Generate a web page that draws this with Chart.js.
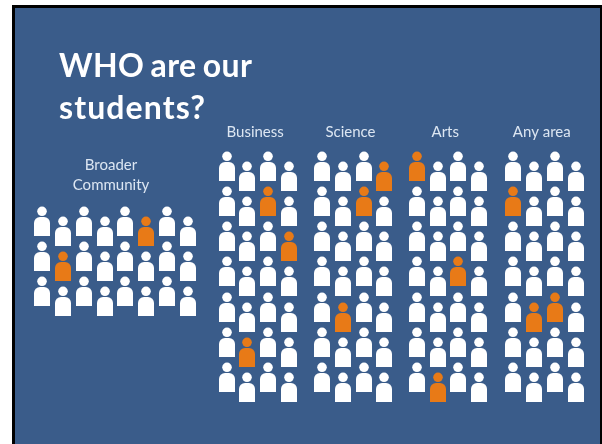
<!DOCTYPE html>
<html>
<head>
<meta charset="utf-8">
<title>WHO are our students?</title>
<script src="https://cdn.jsdelivr.net/npm/chart.js@4"></script>
<style>
    html, body { margin: 0; padding: 0; background: #ffffff; overflow: hidden; }
    #wrap {
        position: absolute; left: 12px; top: 5px; width: 585px; height: 436px;
        border-left: 3px solid #000000; border-top: 3px solid #000000; border-right: 2px solid #000000;
    }
    canvas { display: block; }
</style>
</head>
<body>
<div id="wrap"><canvas id="peopleChart" width="585" height="436"></canvas></div>
<script>
// Grupos e quantas pessoas cada um tem
const groups = ['Broader Community', 'Business', 'Science', 'Arts', 'Any area'];
const columns = [8, 4, 4, 4, 4];
const rows = [3, 7, 7, 7, 7];

// Pessoas em destaque, [coluna, linha] por grupo
const highlighted = [
    [[5, 0], [1, 1]],
    [[2, 1], [3, 2], [1, 5]],
    [[3, 0], [2, 1], [1, 4]],
    [[0, 0], [2, 3], [1, 6]],
    [[0, 1], [1, 4], [2, 4]]
];

const WHITE = '#ffffff';
const ORANGE = '#e87a17';
const BACKGROUND = '#3a5c8a';
const LABEL = '#dce6f2';

// Desenha o boneco (cabeca + corpo) usado como pointStyle
function makePerson(color) {
    const c = document.createElement('canvas');
    c.width = 16;
    c.height = 30;
    const g = c.getContext('2d');
    g.fillStyle = color;
    g.beginPath();
    g.arc(8, 5.3, 4.8, 0, Math.PI * 2);
    g.fill();
    g.beginPath();
    g.roundRect(0, 11, 16, 19, [6, 6, 0, 0]);
    g.fill();
    return c;
}
const whitePerson = makePerson(WHITE);
const orangePerson = makePerson(ORANGE);

// Onde cada grupo comeca nos eixos, em colunas e em linhas
const groupStart = [0, 8.887, 13.48, 18.05, 22.7];
const groupTop = [1.564, 0, 0, 0, 0];
const staggerRow = 0.284; // colunas pares ficam um pouco mais baixas

const datasets = groups.map((name, i) => {
    const data = [];
    const styles = [];
    for (let col = 0; col < columns[i]; col++) {
        for (let row = 0; row < rows[i]; row++) {
            data.push({ x: groupStart[i] + col, y: groupTop[i] + row + (col % 2 ? staggerRow : 0) });
            const isOn = highlighted[i].some(p => p[0] === col && p[1] === row);
            styles.push(isOn ? orangePerson : whitePerson);
        }
    }
    return { label: name, data: data, pointStyle: styles, pointRadius: 10 };
});

// Titulo e rotulos dos grupos como texto real
const textPlugin = {
    id: 'slideText',
    beforeDraw(chart) {
        const g = chart.ctx;
        g.save();
        g.fillStyle = BACKGROUND;
        g.fillRect(0, 0, chart.width, chart.height);
        g.textBaseline = 'alphabetic';
        g.textAlign = 'left';
        g.fillStyle = WHITE;
        g.font = 'bold 32px Lato, Carlito, sans-serif';
        g.letterSpacing = '0.4px';
        g.wordSpacing = '-2px';
        g.fillText('WHO are our', 44, 69);
        g.letterSpacing = '1.1px';
        g.fillText('students?', 44, 111);
        g.letterSpacing = '0px';
        g.wordSpacing = '0px';
        g.textAlign = 'center';
        g.fillStyle = LABEL;
        g.font = '15px Lato, Carlito, sans-serif';
        g.fillText('Broader', 96, 162);
        g.fillText('Community', 96, 182);
        groups.slice(1).forEach((name, i) => {
            const mid = groupStart[i + 1] + 1.37;
            g.fillText(name, chart.scales.x.getPixelForValue(mid), 129);
        });
        g.restore();
    }
};

// Arredonda a posicao dos pontos para o boneco nao ficar borrado
const snapPlugin = {
    id: 'snapPoints',
    beforeDatasetsDraw(chart) {
        chart.data.datasets.forEach((d, i) => {
            chart.getDatasetMeta(i).data.forEach(pt => {
                pt.x = Math.round(pt.x);
                pt.y = Math.round(pt.y);
            });
        });
    }
};

const ctx = document.getElementById('peopleChart').getContext('2d');
new Chart(ctx, {
    type: 'scatter',
    data: { datasets: datasets },
    plugins: [textPlugin, snapPlugin],
    options: {
        responsive: false,
        animation: false,
        layout: { padding: 0, autoPadding: false },
        plugins: { legend: { display: false }, tooltip: { enabled: false } },
        scales: {
            x: { display: false, bounds: 'data', min: -1.316, max: 26.877 },
            y: { display: false, bounds: 'data', reverse: true, min: -4.492, max: 7.905 }
        }
    }
});
</script>
</body>
</html>
